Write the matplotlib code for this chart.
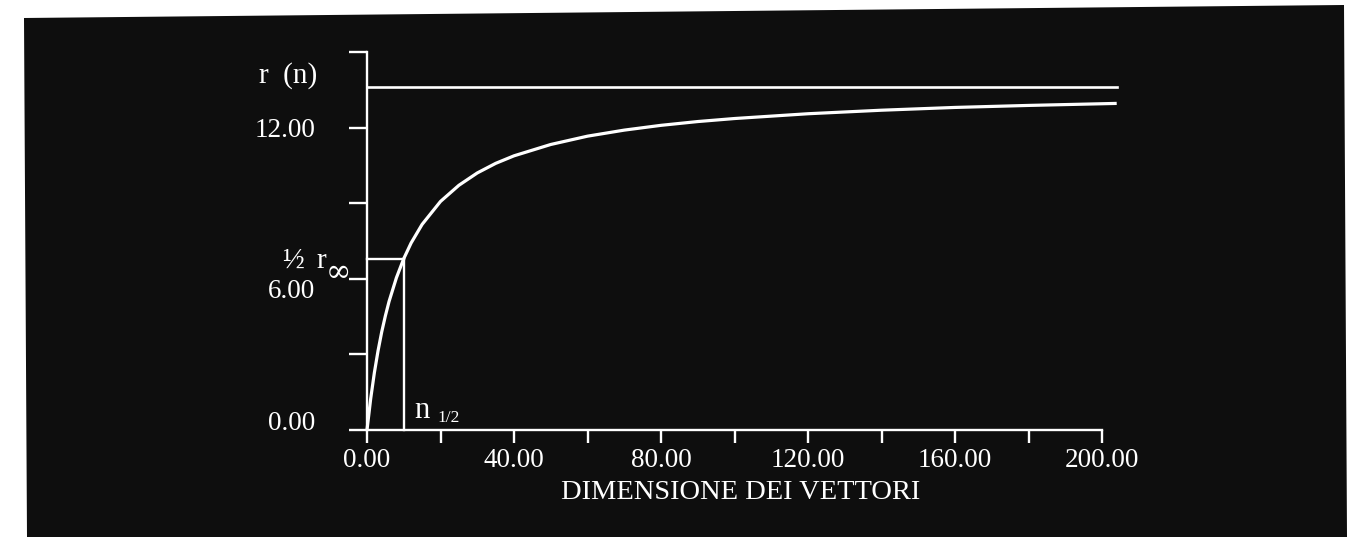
import matplotlib
matplotlib.use("Agg")
import matplotlib.pyplot as plt
from matplotlib.patches import Polygon

# ---- data ----
n_vals = [0, 1, 2, 3, 4, 5, 6, 8, 10, 12, 15, 20, 25, 30, 35, 40, 50, 60, 70,
          80, 90, 100, 120, 140, 160, 180, 204]
r_vals = [0.0, 1.24, 2.27, 3.14, 3.89, 4.53, 5.10, 6.04, 6.80, 7.42, 8.16, 9.07,
          9.71, 10.20, 10.58, 10.88, 11.33, 11.66, 11.90, 12.09, 12.24, 12.36,
          12.55, 12.69, 12.80, 12.88, 12.96]
r_inf = 13.6
r_half = 6.8
n_half = 10
asym_x = [0, 204]

x_ticks = [0, 20, 40, 60, 80, 100, 120, 140, 160, 180, 200]
x_ticklabels = ["0.00", "", "40.00", "", "80.00", "", "120.00", "", "160.00", "", "200.00"]
y_ticks = [0, 3, 6, 9, 12, 15]
y_ticklabels = ["0.00", "", "6.00", "", "12.00", ""]

W, H = 1357, 537
fig = plt.figure(figsize=(W / 100, H / 100), dpi=100)
fig.patch.set_facecolor("white")

def fx(px):
    return px / W

def fy(py):
    return 1 - py / H

# dark scanned panel
panel = Polygon([(fx(24), fy(18)), (fx(1344), fy(5)), (fx(1347), fy(537)), (fx(27), fy(537))],
                closed=True, transform=fig.transFigure, facecolor="#0e0e0e",
                edgecolor="none", zorder=-10)
fig.add_artist(panel)

serif = ["Liberation Serif", "DejaVu Serif"]
plt.rcParams["font.family"] = serif

ax = fig.add_axes([fx(367), fy(430), fx(1102) - fx(367), fy(52) - fy(430)])
ax.set_facecolor("none")
ax.set_xlim(0, 200)
ax.set_ylim(0, 15)

lw_axis = 1.7
for s in ["top", "right"]:
    ax.spines[s].set_visible(False)
for s in ["left", "bottom"]:
    ax.spines[s].set_color("white")
    ax.spines[s].set_linewidth(lw_axis)

ax.set_xticks(x_ticks)
ax.set_xticklabels(x_ticklabels)
ax.set_yticks(y_ticks)
ax.set_yticklabels(y_ticklabels)
ax.tick_params(axis="x", direction="out", length=9, width=lw_axis, colors="white",
               labelsize=19.5, pad=4)
ax.tick_params(axis="y", direction="out", length=13, width=lw_axis, colors="white",
               labelsize=19.5, pad=24)
ylabs = ax.get_yticklabels()
ylabs[0].set_va("baseline")
ylabs[2].set_va("top")

ax.set_xlabel("DIMENSIONE DEI VETTORI", color="white", fontsize=20.5, labelpad=5)
ax.xaxis.label.set_x(0.508)

# curve and guide lines
ax.plot(n_vals, r_vals, color="white", lw=2.3, clip_on=False, solid_capstyle="butt")
ax.plot(asym_x, [r_inf, r_inf], color="white", lw=1.9, clip_on=False)
ax.plot([0, n_half], [r_half, r_half], color="white", lw=1.7, clip_on=False)
ax.plot([n_half, n_half], [0, r_half], color="white", lw=1.7, clip_on=False)

# annotations
fig.text(fx(288), fy(76), "r  (n)", color="white", fontsize=21, ha="center", va="center")
fig.text(fx(293), fy(268), "½", color="white", fontsize=21, ha="center", va="baseline")
fig.text(fx(321), fy(268), "r", color="white", fontsize=21, ha="center", va="baseline")
fig.text(fx(338), fy(272), "∞", color="white", fontsize=22, ha="center", va="center",
         family=["DejaVu Serif"])
fig.text(fx(414), fy(418), "n", color="white", fontsize=22, ha="left", va="baseline")
fig.text(fx(437), fy(422), "1/2", color="white", fontsize=12.5, ha="left", va="baseline")

fig.savefig("out.png", dpi=100, facecolor="white")
